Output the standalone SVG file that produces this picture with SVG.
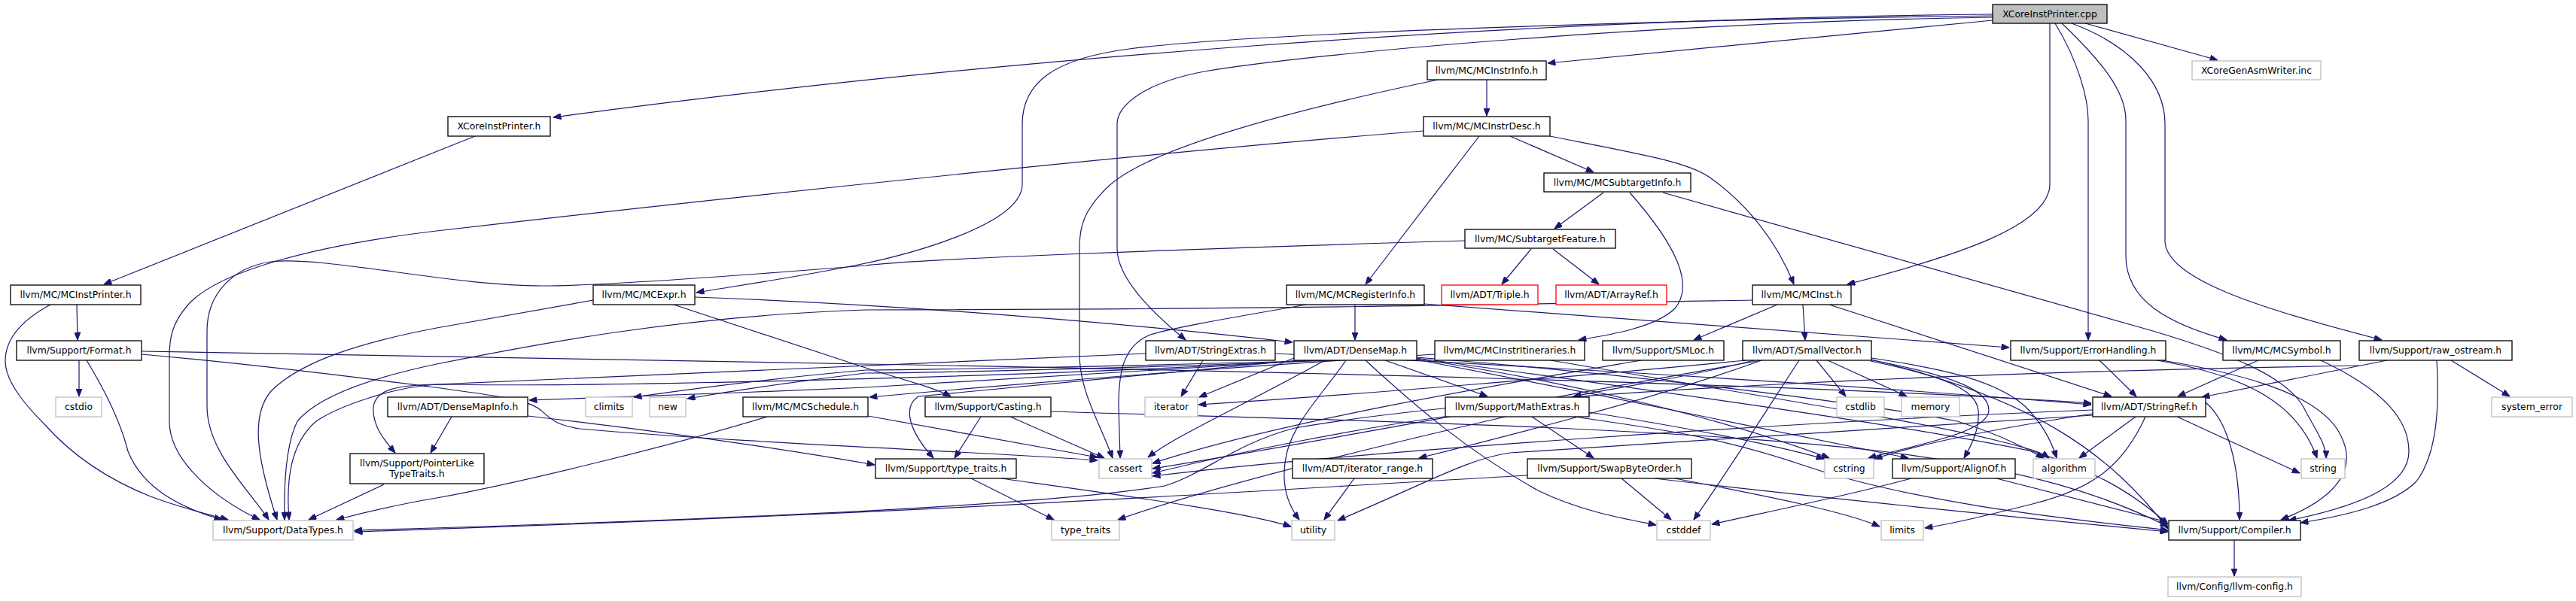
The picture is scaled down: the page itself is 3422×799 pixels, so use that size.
<svg xmlns="http://www.w3.org/2000/svg" width="3422" height="799" viewBox="0 0 3422 799">
<style>
.n{fill:#fff;stroke:#000;stroke-width:1.3}
.g{fill:#fff;stroke:#bfbfbf;stroke-width:1.3}
.r{fill:#fff;stroke:#ff0000;stroke-width:1.3}
.c{fill:#bfbfbf;stroke:#000;stroke-width:1.3}
text{font-family:"DejaVu Sans","Liberation Sans",sans-serif;font-size:12.4px;text-anchor:middle;fill:#000}
.e path{fill:none;stroke:#191970;stroke-width:1.2;marker-end:url(#a)}
</style>
<defs>
<marker id="a" viewBox="0 0 10 8" refX="10" refY="4" markerWidth="11" markerHeight="8" markerUnits="userSpaceOnUse" orient="auto"><path d="M0,0 L10,4 L0,8 z" fill="#191970" stroke="#191970"/></marker>
</defs>
<rect width="3422" height="799" fill="#fff"/>
<g class="e" id="edges">
<path d="M2647,19 C2000,25 1300,80 735,156"/>
<path d="M2647,21 C2200,26 1650,45 1500,65 C1400,78 1358,110 1358,165 L1358,245 C1358,300 1200,340 1140,352 C1050,370 960,383 925,389"/>
<path d="M2647,23 C2200,30 1750,70 1600,95 C1520,110 1484,140 1484,165 L1484,330 C1484,370 1530,415 1575,452"/>
<path d="M2647,27 L2056,84"/>
<path d="M2723,31 L2723,245 C2723,300 2600,340 2454,378"/>
<path d="M2730,31 C2760,80 2774,130 2774,160 L2774,452"/>
<path d="M2739,31 C2790,80 2824,120 2824,160 L2824,340 C2824,400 2880,430 2958,452"/>
<path d="M2752,31 C2830,60 2876,110 2876,165 L2876,320 C2876,370 3000,410 3164,452"/>
<path d="M2770,31 L2946,80"/>
<path d="M631,181 L138,378"/>
<path d="M1975,106 L1975,154"/>
<path d="M1910,106 C1700,150 1520,200 1470,250 C1440,280 1434,300 1434,330 L1434,470 C1434,520 1460,560 1478,609"/>
<path d="M1891,174 C1500,205 900,270 580,307 C420,326 290,360 250,405 C228,430 225,450 225,475 L225,560 C225,615 290,665 345,691"/>
<path d="M1946,320 C1600,330 1200,345 1150,353 C1000,365 800,380 720,380 C600,380 430,340 360,348 C310,355 275,390 275,440 L275,540 C275,600 330,650 357,691"/>
<path d="M1965,181 L1814,378"/>
<path d="M2006,181 L2117,229"/>
<path d="M2059,181 C2180,205 2240,215 2270,235 C2320,270 2360,320 2383,378"/>
<path d="M2130,256 L2065,304"/>
<path d="M2165,256 C2230,330 2250,380 2225,410 C2200,435 2140,445 2097,452"/>
<path d="M2209,256 L2860,440 C2960,470 3040,500 3062,545 C3075,570 3090,590 3090,609"/>
<path d="M2034,331 L1995,378"/>
<path d="M2063,331 L2124,378"/>
<path d="M102,405 L103,452"/>
<path d="M67,405 C30,425 7,450 7,480 C7,510 40,545 60,565 C100,610 150,640 200,660 C240,675 280,685 303,691"/>
<path d="M105,479 L105,527"/>
<path d="M115,479 C140,520 160,560 170,600 C190,650 240,675 295,691"/>
<path d="M188,467 L1150,484 C1600,492 2400,510 2778,536"/>
<path d="M188,471 C350,485 500,505 570,514 C650,525 700,530 718,545 C735,560 740,565 770,570 C1000,590 1300,600 1458,612"/>
<path d="M788,399 L580,436 C480,455 400,480 360,520 C335,550 338,600 368,691"/>
<path d="M923,395 C1200,405 1500,430 1717,455"/>
<path d="M895,405 L1150,489 C1200,505 1240,515 1263,527"/>
<path d="M1800,405 L1800,452"/>
<path d="M1892,404 L2669,462"/>
<path d="M1735,405 C1650,420 1560,435 1528,445 C1490,460 1486,500 1486,540 L1488,609"/>
<path d="M2395,405 L2398,452"/>
<path d="M2361,405 L2250,452"/>
<path d="M2430,405 L2805,527"/>
<path d="M2328,399 C2000,405 1700,411 1150,412 C900,420 700,460 580,484 C480,505 420,530 395,560 C380,590 377,640 378,691"/>
<path d="M1598,479 L1569,527"/>
<path d="M1694,470 C2100,490 2500,515 2778,538"/>
<path d="M1522,470 C1300,478 1000,495 580,511 C520,515 450,540 420,560 C385,590 380,640 384,691"/>
<path d="M1740,479 C1500,495 1200,512 1150,515 C1000,522 800,528 703,532"/>
<path d="M1760,479 C1500,487 1200,492 1150,492 C1000,505 900,520 842,528"/>
<path d="M1770,479 C1500,490 1200,496 1150,496 C1050,508 960,522 913,530"/>
<path d="M1745,479 C1400,500 800,515 580,511 C520,512 500,520 496,540 C494,565 510,585 525,602"/>
<path d="M1725,479 C1500,500 1300,520 1220,527 C1200,540 1205,570 1240,609"/>
<path d="M1760,479 C1650,540 1560,580 1525,608"/>
<path d="M1814,479 C1880,540 1950,600 2043,652 C2100,680 2160,690 2200,698"/>
<path d="M1788,479 C1760,520 1720,560 1710,600 C1700,640 1710,670 1726,691"/>
<path d="M1840,479 L1976,527"/>
<path d="M1882,478 C2100,520 2400,580 2535,609"/>
<path d="M1882,476 C2200,520 2500,560 2700,600 C2800,630 2850,670 2880,697"/>
<path d="M1719,476 L1593,528"/>
<path d="M1882,475 C2200,500 2500,540 2600,560 C2650,575 2690,595 2715,609"/>
<path d="M1882,477 C2100,510 2300,560 2430,609"/>
<path d="M600,554 L572,602"/>
<path d="M701,553 C850,570 1000,590 1162,618"/>
<path d="M510,644 L410,691"/>
<path d="M1019,554 C900,590 700,640 580,662 C520,672 470,685 447,691"/>
<path d="M1153,553 L1458,608"/>
<path d="M1303,554 L1268,609"/>
<path d="M1342,554 L1467,609"/>
<path d="M1396,547 C1700,557 2200,565 2500,600 C2700,625 2800,660 2880,700"/>
<path d="M1906,471 C1600,490 1300,515 1155,528"/>
<path d="M2060,479 C2300,520 2550,560 2650,585 C2690,595 2710,600 2722,609"/>
<path d="M2180,479 C2000,510 1700,560 1531,616"/>
<path d="M2340,479 C2200,530 2000,580 1885,609"/>
<path d="M2485,480 C2580,500 2624,516 2628,545 C2630,570 2620,590 2609,609"/>
<path d="M2482,478 C2600,500 2642,520 2642,545 C2642,575 2550,590 2482,609"/>
<path d="M2486,476 C2580,490 2650,505 2690,540 C2710,560 2725,585 2732,609"/>
<path d="M2413,479 L2452,527"/>
<path d="M2428,479 L2533,527"/>
<path d="M2390,479 C2350,540 2300,620 2250,691"/>
<path d="M2340,479 C2100,520 1800,580 1531,623"/>
<path d="M2320,479 C2100,500 1800,525 1592,538"/>
<path d="M2330,479 C2250,500 2150,515 2090,527"/>
<path d="M2486,478 C2700,530 2800,600 2880,703"/>
<path d="M2035,554 L2117,609"/>
<path d="M2091,554 C2200,570 2280,579 2400,620 C2550,670 2750,690 2880,705"/>
<path d="M1925,553 C1800,570 1650,600 1531,629"/>
<path d="M2111,548 C2250,570 2350,590 2423,610"/>
<path d="M2000,554 C1800,600 1600,650 1485,691"/>
<path d="M2154,636 L2220,691"/>
<path d="M2198,636 C2400,660 2600,680 2880,707"/>
<path d="M2029,632 C1700,650 1300,680 471,707"/>
<path d="M2225,636 C2350,660 2450,680 2497,700"/>
<path d="M1799,636 L1759,691"/>
<path d="M2539,636 C2450,660 2350,680 2274,697"/>
<path d="M2652,636 L2879,694"/>
<path d="M2837,554 L2762,609"/>
<path d="M2850,554 C2820,620 2780,650 2700,670 C2640,685 2600,695 2557,702"/>
<path d="M2892,554 L3055,629"/>
<path d="M2780,545 C2400,560 1800,600 1531,633"/>
<path d="M2780,550 C2650,570 2550,590 2490,610"/>
<path d="M2780,552 C2500,570 2100,595 2006,602 C1950,610 1900,640 1777,692"/>
<path d="M2930,535 C2960,560 2975,620 2975,691"/>
<path d="M2789,479 L2838,527"/>
<path d="M2872,479 C3000,500 3087,530 3110,580 C3130,620 3110,660 3030,691"/>
<path d="M2865,479 C2990,500 3054,540 3078,609"/>
<path d="M3000,479 L2893,527"/>
<path d="M3083,479 C3170,520 3200,560 3200,600 C3200,640 3150,670 3040,692"/>
<path d="M3171,479 L2925,528"/>
<path d="M3237,479 C3240,530 3240,600 3210,640 C3180,670 3120,685 3056,695"/>
<path d="M3256,479 L3334,527"/>
<path d="M3134,486 C2600,495 2000,520 1720,569 C1640,590 1600,630 1547,646 C1400,670 1000,690 471,705"/>
<path d="M2968,718 L2968,766"/>
<path d="M1290,636 L1400,691"/>
<path d="M1330,636 C1500,660 1650,680 1715,700"/>
</g>
<g id="cpp"><rect class="c" x="2647" y="6" width="152" height="25"/><text x="2723" y="22.9">XCoreInstPrinter.cpp</text></g>
<g id="gen"><rect class="g" x="2912" y="81" width="171" height="25"/><text x="2997.5" y="97.9">XCoreGenAsmWriter.inc</text></g>
<g id="mcii"><rect class="n" x="1896" y="81" width="158" height="25"/><text x="1975" y="97.9">llvm/MC/MCInstrInfo.h</text></g>
<g id="xih"><rect class="n" x="595" y="155" width="136" height="26"/><text x="663" y="172.4">XCoreInstPrinter.h</text></g>
<g id="mcid"><rect class="n" x="1891" y="155" width="168" height="26"/><text x="1975" y="172.4">llvm/MC/MCInstrDesc.h</text></g>
<g id="mcsti"><rect class="n" x="2051" y="230" width="195" height="25"/><text x="2148.5" y="246.9">llvm/MC/MCSubtargetInfo.h</text></g>
<g id="stf"><rect class="n" x="1946" y="305" width="200" height="25"/><text x="2046" y="321.9">llvm/MC/SubtargetFeature.h</text></g>
<g id="mcip"><rect class="n" x="14" y="379" width="173" height="26"/><text x="100.5" y="396.4">llvm/MC/MCInstPrinter.h</text></g>
<g id="mcexpr"><rect class="n" x="788" y="379" width="135" height="26"/><text x="855.5" y="396.4">llvm/MC/MCExpr.h</text></g>
<g id="mcreg"><rect class="n" x="1709" y="379" width="183" height="26"/><text x="1800.5" y="396.4">llvm/MC/MCRegisterInfo.h</text></g>
<g id="triple"><rect class="r" x="1915" y="379" width="128" height="26"/><text x="1979" y="396.4">llvm/ADT/Triple.h</text></g>
<g id="arrayref"><rect class="r" x="2067" y="379" width="147" height="26"/><text x="2140.5" y="396.4">llvm/ADT/ArrayRef.h</text></g>
<g id="mcinst"><rect class="n" x="2328" y="379" width="131" height="26"/><text x="2393.5" y="396.4">llvm/MC/MCInst.h</text></g>
<g id="format"><rect class="n" x="22" y="453" width="166" height="26"/><text x="105" y="470.4">llvm/Support/Format.h</text></g>
<g id="strext"><rect class="n" x="1522" y="453" width="172" height="26"/><text x="1608" y="470.4">llvm/ADT/StringExtras.h</text></g>
<g id="densemap"><rect class="n" x="1719" y="453" width="163" height="26"/><text x="1800.5" y="470.4">llvm/ADT/DenseMap.h</text></g>
<g id="itin"><rect class="n" x="1906" y="453" width="199" height="26"/><text x="2005.5" y="470.4">llvm/MC/MCInstrItineraries.h</text></g>
<g id="smloc"><rect class="n" x="2129" y="453" width="161" height="26"/><text x="2209.5" y="470.4">llvm/Support/SMLoc.h</text></g>
<g id="smallvec"><rect class="n" x="2315" y="453" width="171" height="26"/><text x="2400.5" y="470.4">llvm/ADT/SmallVector.h</text></g>
<g id="errh"><rect class="n" x="2671" y="453" width="206" height="26"/><text x="2774" y="470.4">llvm/Support/ErrorHandling.h</text></g>
<g id="mcsym"><rect class="n" x="2953" y="453" width="156" height="26"/><text x="3031" y="470.4">llvm/MC/MCSymbol.h</text></g>
<g id="rawos"><rect class="n" x="3134" y="453" width="203" height="26"/><text x="3235.5" y="470.4">llvm/Support/raw_ostream.h</text></g>
<g id="cstdio"><rect class="g" x="74" y="528" width="61" height="26"/><text x="104.5" y="545.4">cstdio</text></g>
<g id="dmi"><rect class="n" x="515" y="528" width="186" height="26"/><text x="608" y="545.4">llvm/ADT/DenseMapInfo.h</text></g>
<g id="climits"><rect class="g" x="778" y="528" width="62" height="26"/><text x="809" y="545.4">climits</text></g>
<g id="new"><rect class="g" x="863" y="528" width="48" height="26"/><text x="887" y="545.4">new</text></g>
<g id="mcsched"><rect class="n" x="987" y="528" width="166" height="26"/><text x="1070" y="545.4">llvm/MC/MCSchedule.h</text></g>
<g id="casting"><rect class="n" x="1229" y="528" width="167" height="26"/><text x="1312.5" y="545.4">llvm/Support/Casting.h</text></g>
<g id="iterator"><rect class="g" x="1521" y="528" width="70" height="26"/><text x="1556" y="545.4">iterator</text></g>
<g id="mathext"><rect class="n" x="1920" y="528" width="191" height="26"/><text x="2015.5" y="545.4">llvm/Support/MathExtras.h</text></g>
<g id="cstdlib"><rect class="g" x="2440" y="528" width="63" height="26"/><text x="2471.5" y="545.4">cstdlib</text></g>
<g id="memory"><rect class="g" x="2526" y="528" width="77" height="26"/><text x="2564.5" y="545.4">memory</text></g>
<g id="strref"><rect class="n" x="2780" y="528" width="150" height="26"/><text x="2855" y="545.4">llvm/ADT/StringRef.h</text></g>
<g id="syserr"><rect class="g" x="3310" y="528" width="107" height="26"/><text x="3363.5" y="545.4">system_error</text></g>
<g id="plt"><rect class="n" x="465" y="603" width="178" height="40"/><text x="554" y="619.5">llvm/Support/PointerLike</text><text x="554" y="634">TypeTraits.h</text></g>
<g id="tth"><rect class="n" x="1163" y="610" width="187" height="26"/><text x="1256.5" y="627.4">llvm/Support/type_traits.h</text></g>
<g id="cassert"><rect class="g" x="1460" y="610" width="70" height="26"/><text x="1495" y="627.4">cassert</text></g>
<g id="itrange"><rect class="n" x="1717" y="610" width="186" height="26"/><text x="1810" y="627.4">llvm/ADT/iterator_range.h</text></g>
<g id="swap"><rect class="n" x="2029" y="610" width="218" height="26"/><text x="2138" y="627.4">llvm/Support/SwapByteOrder.h</text></g>
<g id="cstring"><rect class="g" x="2424" y="610" width="65" height="26"/><text x="2456.5" y="627.4">cstring</text></g>
<g id="alignof"><rect class="n" x="2514" y="610" width="163" height="26"/><text x="2595.5" y="627.4">llvm/Support/AlignOf.h</text></g>
<g id="algorithm"><rect class="g" x="2701" y="610" width="82" height="26"/><text x="2742" y="627.4">algorithm</text></g>
<g id="string"><rect class="g" x="3057" y="610" width="58" height="26"/><text x="3086" y="627.4">string</text></g>
<g id="datatypes"><rect class="g" x="283" y="692" width="186" height="26"/><text x="376" y="709.4">llvm/Support/DataTypes.h</text></g>
<g id="tt"><rect class="g" x="1397" y="692" width="90" height="26"/><text x="1442" y="709.4">type_traits</text></g>
<g id="utility"><rect class="g" x="1716" y="692" width="57" height="26"/><text x="1744.5" y="709.4">utility</text></g>
<g id="cstddef"><rect class="g" x="2201" y="692" width="71" height="26"/><text x="2236.5" y="709.4">cstddef</text></g>
<g id="limits"><rect class="g" x="2499" y="692" width="56" height="26"/><text x="2527" y="709.4">limits</text></g>
<g id="compiler"><rect class="n" x="2881" y="692" width="175" height="26"/><text x="2968.5" y="709.4">llvm/Support/Compiler.h</text></g>
<g id="config"><rect class="g" x="2880" y="767" width="177" height="26"/><text x="2968.5" y="784.4">llvm/Config/llvm-config.h</text></g>
</svg>
